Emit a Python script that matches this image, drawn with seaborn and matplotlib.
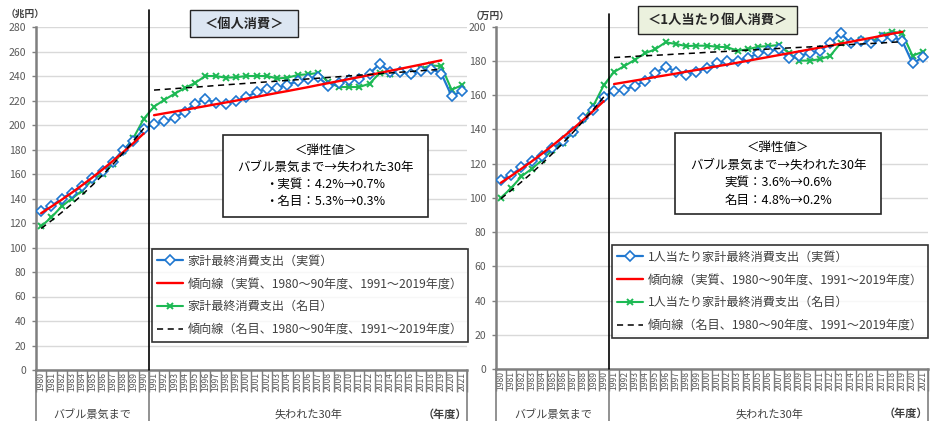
import numpy as np
import pandas as pd
import matplotlib
matplotlib.use("Agg")
import matplotlib.pyplot as plt
import seaborn as sns
from matplotlib.lines import Line2D
from matplotlib.patches import Rectangle

# ---------------- data ----------------
years = [str(y) for y in range(1980, 2022)]
years_early = years[:11]          # 1980-1990
years_late = years[11:40]         # 1991-2019

# left panel: 個人消費 (兆円)
real_total = [129.7, 133.7, 140.0, 144.5, 150.0, 156.8, 162.5, 170.0, 180.0, 187.3,
              196.7,
              200.8, 203.0, 205.7, 211.0, 217.4, 221.5, 218.0, 217.4, 219.5, 222.8,
              227.0, 229.6, 230.2, 233.0, 235.6, 237.8, 239.2, 231.8, 234.3, 237.0,
              237.8, 242.0, 250.0, 243.3, 243.3, 242.0, 244.0, 246.0, 242.0, 223.6, 227.7]
nominal_total = [117.3, 124.6, 133.6, 140.0, 146.4, 155.4, 160.0, 168.2, 178.6, 189.5,
                 205.0,
                 215.0, 220.5, 225.5, 230.2, 234.3, 240.0, 240.0, 238.6, 239.0, 240.0,
                 240.0, 240.0, 238.0, 238.6, 240.8, 241.4, 242.5, 235.0, 231.0, 231.0,
                 231.0, 233.7, 242.5, 242.0, 243.3, 241.4, 246.0, 248.7, 248.0, 228.8, 232.4]
trend_real_total_early = [128.0, 133.4, 139.0, 144.8, 150.9, 157.2, 163.8, 170.7, 177.9, 185.3, 193.1]
trend_real_total_late = [208.0, 209.5, 210.9, 212.4, 213.9, 215.4, 216.9, 218.4, 219.9, 221.5,
                         223.0, 224.6, 226.2, 227.7, 229.3, 230.9, 232.6, 234.2, 235.8, 237.5,
                         239.1, 240.8, 242.5, 244.2, 245.9, 247.6, 249.3, 251.1, 252.8]
trend_nom_total_early = [115.5, 121.9, 128.6, 135.6, 143.1, 150.9, 159.2, 168.0, 177.2, 187.0, 197.3]
trend_nom_total_late = [228.5, 229.1, 229.7, 230.3, 230.9, 231.5, 232.2, 232.8, 233.4, 234.0,
                        234.6, 235.2, 235.8, 236.4, 237.0, 237.6, 238.2, 238.8, 239.4, 240.1,
                        240.7, 241.3, 241.9, 242.5, 243.1, 243.7, 244.3, 244.9, 245.5]

# right panel: 1人当たり個人消費 (万円)
real_pc = [110.7, 113.2, 117.9, 121.4, 124.5, 129.0, 133.0, 138.5, 146.4, 151.2,
           159.0,
           162.5, 163.3, 165.3, 168.3, 172.8, 176.7, 173.8, 171.8, 173.8, 175.7,
           178.6, 180.2, 180.2, 181.6, 184.5, 185.8, 186.8, 181.6, 183.0, 184.5,
           185.8, 190.3, 196.1, 190.3, 191.7, 190.3, 193.2, 194.2, 191.7, 178.6, 182.1]
nominal_pc = [100.0, 105.7, 112.5, 117.0, 122.0, 127.8, 132.2, 138.0, 145.8, 154.0,
              165.8,
              173.6, 177.0, 180.6, 184.5, 186.8, 190.9, 189.9, 188.7, 188.9, 188.9,
              188.3, 188.0, 186.0, 186.8, 188.3, 188.7, 189.3, 184.5, 180.2, 180.2,
              181.0, 183.0, 190.3, 190.3, 192.2, 190.9, 195.1, 197.1, 196.1, 183.0, 185.4]
trend_real_pc_early = [108.8, 112.8, 117.0, 121.3, 125.8, 130.5, 135.3, 140.3, 145.5, 150.9, 156.5]
trend_real_pc_late = [166.5, 167.5, 168.5, 169.5, 170.6, 171.6, 172.6, 173.7, 174.7, 175.8,
                      176.9, 177.9, 179.0, 180.1, 181.2, 182.3, 183.4, 184.5, 185.6, 186.7,
                      187.8, 188.9, 190.1, 191.2, 192.4, 193.5, 194.7, 195.9, 197.0]
trend_nom_pc_early = [99.5, 104.3, 109.3, 114.5, 120.0, 125.8, 131.8, 138.2, 144.8, 151.7, 159.0]
trend_nom_pc_late = [182.0, 182.3, 182.7, 183.0, 183.3, 183.6, 184.0, 184.3, 184.6, 185.0,
                     185.3, 185.6, 185.9, 186.3, 186.6, 186.9, 187.3, 187.6, 187.9, 188.2,
                     188.6, 188.9, 189.2, 189.6, 189.9, 190.2, 190.5, 190.9, 191.2]

labels_left = ["家計最終消費支出（実質）",
               "傾向線（実質、1980～90年度、1991～2019年度）",
               "家計最終消費支出（名目）",
               "傾向線（名目、1980～90年度、1991～2019年度）"]
labels_right = ["1人当たり家計最終消費支出（実質）",
                "傾向線（実質、1980～90年度、1991～2019年度）",
                "1人当たり家計最終消費支出（名目）",
                "傾向線（名目、1980～90年度、1991～2019年度）"]
box_left = ["＜弾性値＞", "バブル景気まで→失われた30年", "・実質：4.2%→0.7%", "・名目：5.3%→0.3%"]
box_right = ["＜弾性値＞", "バブル景気まで→失われた30年", "実質：3.6%→0.6%", "名目：4.8%→0.2%"]

# ---------------- style ----------------
sns.set_theme(style="white")
plt.rcParams["font.family"] = ["Noto Sans CJK JP", "DejaVu Sans"]

BLUE = "#1f77d0"
RED = "#ff0000"
GREEN = "#1db954"
GRAY = "#595959"
AX = "#7f7f7f"

W, H = 934, 421
fig = plt.figure(figsize=(W / 100, H / 100), dpi=100)


def fx(x):
    return x / W


def fy(y):
    return 1 - y / H


axL = fig.add_axes([fx(36), fy(370), 431 / W, 343 / H])
axR = fig.add_axes([fx(495.7), fy(369), 432.3 / W, 342.3 / H])

pos = {y: i for i, y in enumerate(years)}


def draw(ax, real, nom, tr_e, tr_l, tn_e, tn_l):
    xs = [pos[y] for y in years]
    sns.lineplot(x=xs, y=real, ax=ax, color=BLUE, lw=1.6, marker="D", markersize=5,
                 markerfacecolor="white", markeredgecolor=BLUE, markeredgewidth=1.2, zorder=4)
    sns.lineplot(x=xs, y=nom, ax=ax, color=GREEN, lw=1.5, marker="x", markersize=3.8,
                 markeredgecolor=GREEN, markeredgewidth=1.4, zorder=3)
    xe = [pos[y] for y in years_early]
    xl = [pos[y] for y in years_late]
    for xx, yy in ((xe, tr_e), (xl, tr_l)):
        sns.lineplot(x=xx, y=yy, ax=ax, color=RED, lw=1.7, zorder=5)
    for xx, yy in ((xe, tn_e), (xl, tn_l)):
        sns.lineplot(x=xx, y=yy, ax=ax, color="black", lw=1.1, linestyle=(0, (4, 3)), zorder=6)


def setup(ax, ymax, ext):
    ax.set_xlim(-0.5, len(years) - 0.5)
    ax.set_ylim(0, ymax)
    ax.set_yticks(list(range(0, ymax + 1, 20)))
    ax.grid(axis="y", color="#d9d9d9", lw=1)
    ax.grid(axis="x", visible=False)
    ax.set_axisbelow(True)
    for s in ["top", "right"]:
        ax.spines[s].set_visible(False)
    for s in ["left", "bottom"]:
        ax.spines[s].set_color(AX)
        ax.spines[s].set_linewidth(1.8)
    ax.set_xticks(range(len(years)))
    ax.set_xticklabels(years, rotation=90, fontsize=6.2, color=GRAY)
    ax.tick_params(axis="x", which="major", length=0, pad=1.5)
    ax.set_xticks(np.arange(-0.5, len(years), 1), minor=True)
    ax.tick_params(axis="x", which="minor", length=16, width=1, color=AX, bottom=True)
    ax.tick_params(axis="y", length=3, width=1, color=AX, labelsize=7.5, labelcolor=GRAY,
                   pad=4, left=True)
    ax.set_xlabel("")
    ax.set_ylabel("")
    tr = ax.get_xaxis_transform()
    for xv in (-0.5, 10.5, len(years) - 0.5):
        ax.plot([xv, xv], [0, -0.16], transform=tr, color=AX, lw=1.2, clip_on=False)
    ax.plot([10.5, 10.5], [0, 1 + ext], transform=tr, color="black", lw=1.2, clip_on=False, zorder=7)
    if ax.get_legend():
        ax.get_legend().remove()


draw(axL, real_total, nominal_total, trend_real_total_early, trend_real_total_late,
     trend_nom_total_early, trend_nom_total_late)
draw(axR, real_pc, nominal_pc, trend_real_pc_early, trend_real_pc_late,
     trend_nom_pc_early, trend_nom_pc_late)
setup(axL, 280, 17 / 343)
setup(axR, 200, 13 / 342)


def handles():
    return [Line2D([], [], color=BLUE, lw=1.6, marker="D", markersize=5, markerfacecolor="white",
                   markeredgecolor=BLUE, markeredgewidth=1.2),
            Line2D([], [], color=RED, lw=1.7),
            Line2D([], [], color=GREEN, lw=1.5, marker="x", markersize=3.8, markeredgewidth=1.4),
            Line2D([], [], color="black", lw=1.1, linestyle=(0, (4, 3)))]


for labels, (lx, ly) in ((labels_left, (152, 249)), (labels_right, (612, 245))):
    leg = fig.legend(handles(), labels, loc="upper left", bbox_to_anchor=(fx(lx), fy(ly)),
                     bbox_transform=fig.transFigure, fontsize=8.7, frameon=True, fancybox=False,
                     handlelength=2.1, handletextpad=0.4, labelspacing=0.82, borderpad=0.45,
                     borderaxespad=0)
    leg.get_frame().set_edgecolor("black")
    leg.get_frame().set_linewidth(1.2)
    for t in leg.get_texts():
        t.set_color("#404040")


def rect(x0, y0, x1, y1, fc, lw=1.0):
    fig.add_artist(Rectangle((fx(x0), fy(y1)), (x1 - x0) / W, (y1 - y0) / H,
                             transform=fig.transFigure, facecolor=fc, edgecolor="#262626",
                             lw=lw, zorder=10))


# title boxes
rect(190, 10, 298, 37, "#dce6f2")
fig.text(fx(244), fy(23.5), "＜個人消費＞", ha="center", va="center", fontsize=9.5,
         fontweight="bold", color="#262626", zorder=11)
rect(638, 6, 797, 34, "#ebf1de")
fig.text(fx(717.5), fy(20), "＜1人当たり個人消費＞", ha="center", va="center", fontsize=9.5,
         fontweight="bold", color="#262626", zorder=11)

# elasticity boxes
rect(223, 135, 428, 217, "white", lw=1.2)
for t, yy in zip(box_left, (150.7, 167.7, 184.3, 201.7)):
    fig.text(fx(325.5), fy(yy), t, ha="center", va="center", fontsize=9, color="black", zorder=11)
rect(675, 133, 881, 214, "white", lw=1.2)
for t, yy in zip(box_right, (147.3, 165, 182.3, 200)):
    fig.text(fx(778), fy(yy), t, ha="center", va="center", fontsize=9, color="black", zorder=11)

# unit labels
fig.text(fx(25), fy(14), "（兆円）", ha="center", va="center", fontsize=7, fontweight="bold", color="#404040")
fig.text(fx(490), fy(16), "（万円）", ha="center", va="center", fontsize=7, fontweight="bold", color="#404040")

# group labels
for x, t in ((92, "バブル景気まで"), (308, "失われた30年"), (553, "バブル景気まで"), (769, "失われた30年")):
    fig.text(fx(x), fy(414), t, ha="center", va="center", fontsize=8, color="#404040")
fig.text(fx(467), fy(414), "（年度）", ha="right", va="center", fontsize=8, fontweight="bold", color="#404040")
fig.text(fx(928), fy(413), "（年度）", ha="right", va="center", fontsize=8, fontweight="bold", color="#404040")

fig.savefig("out.png", dpi=100)
